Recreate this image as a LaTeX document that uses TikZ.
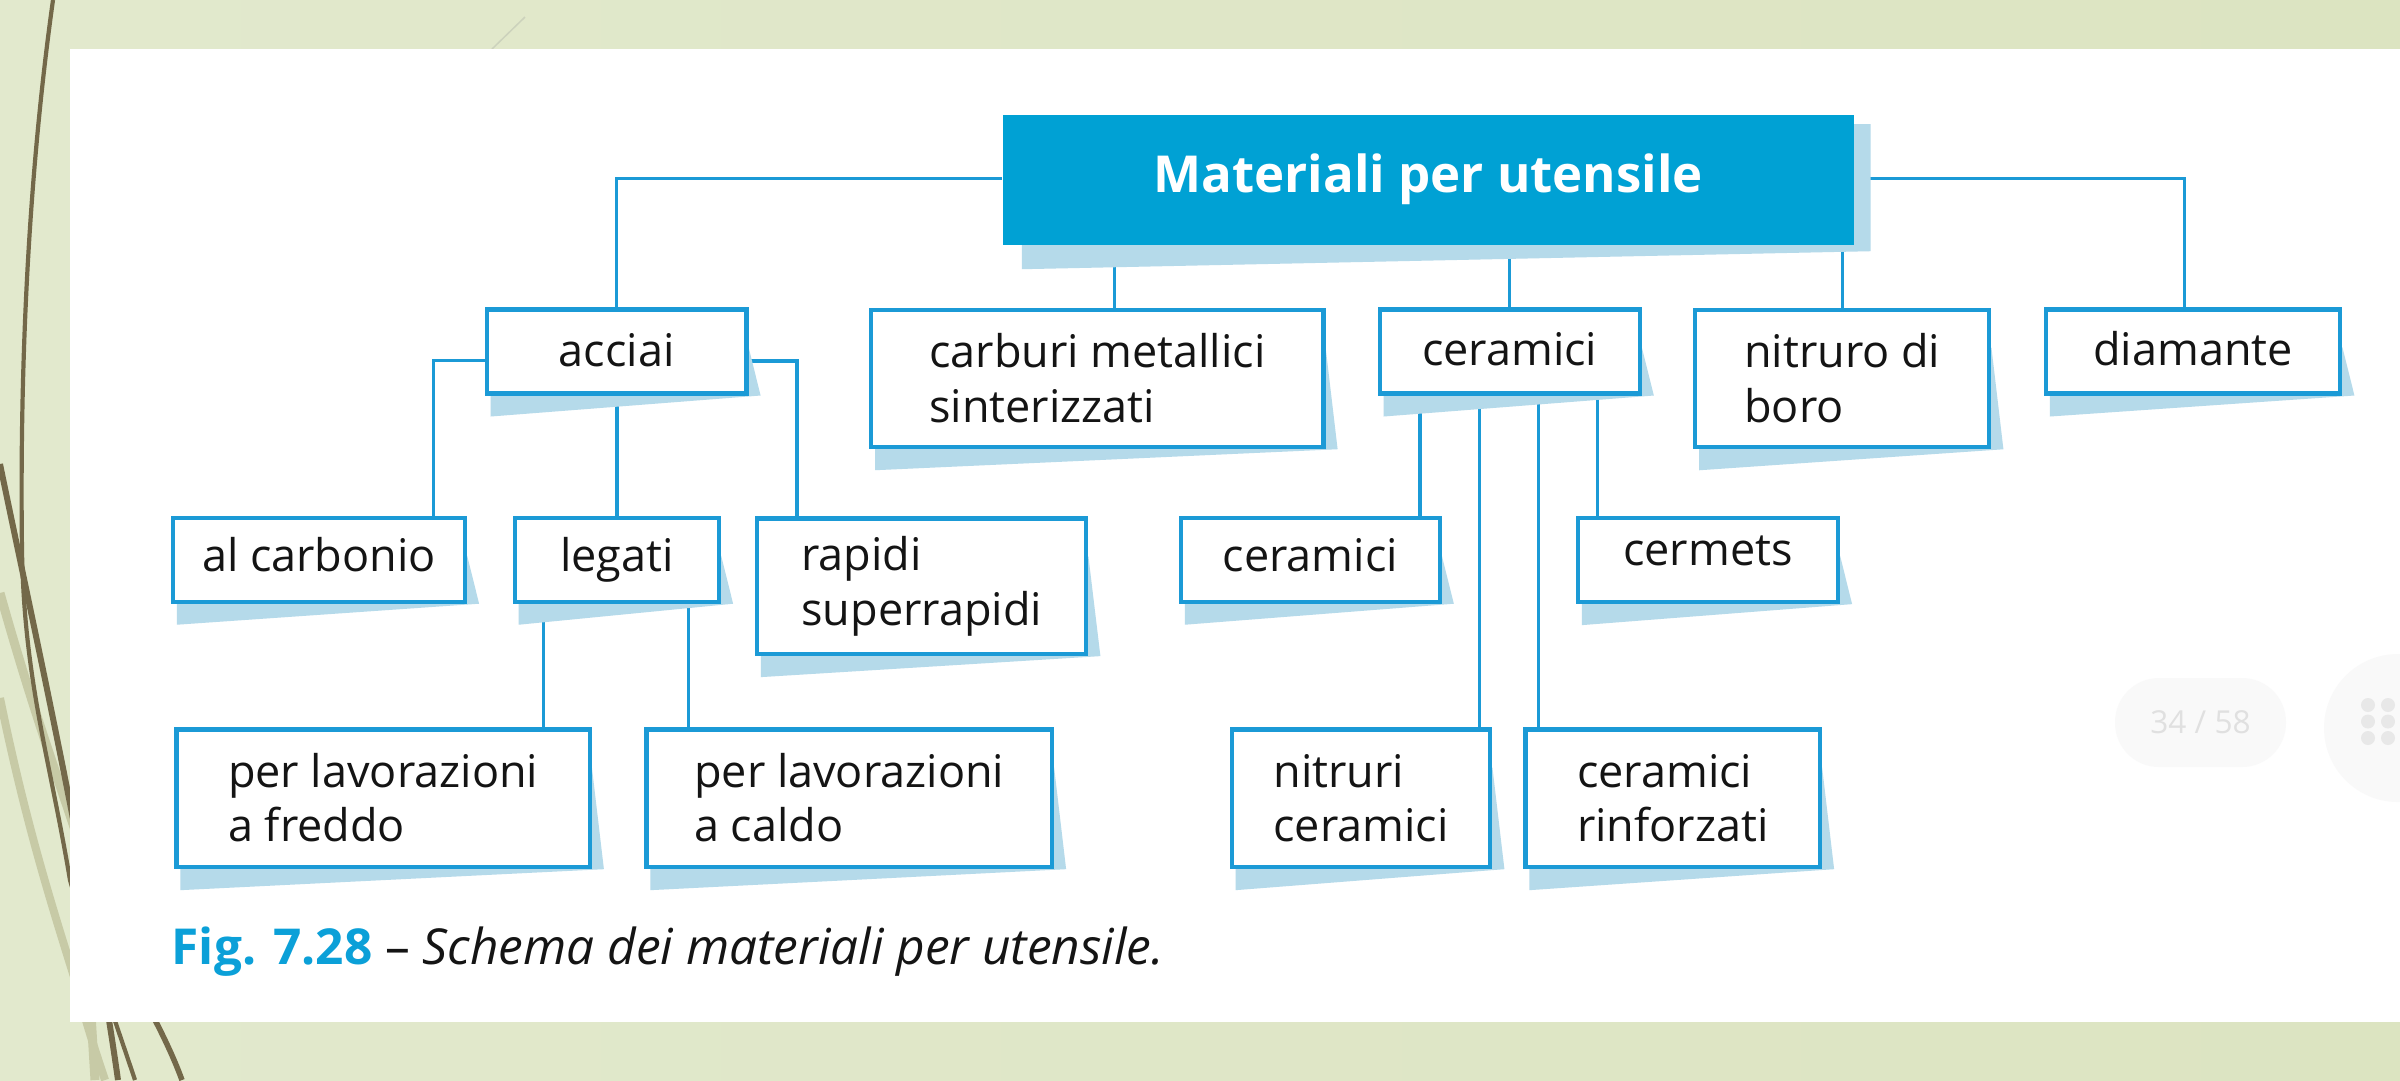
\documentclass[tikz,border=0pt]{standalone}
\usepackage{fontspec}
\setmainfont{Open Sans}
\usetikzlibrary{calc}
\definecolor{lineblue}{HTML}{1B9AD6}
\definecolor{mainblue}{HTML}{00A1D4}
\definecolor{shadowblue}{HTML}{B5DAEA}
\definecolor{txtc}{HTML}{141414}
\definecolor{capblue}{HTML}{0BA0D8}
\definecolor{bgleft}{HTML}{E2E9CD}
\definecolor{bgmid}{HTML}{F4F5EE}
\definecolor{bgright}{HTML}{DCE4C1}
\definecolor{wispdark}{HTML}{736849}
\definecolor{wisplight}{HTML}{C7CAA6}
\definecolor{wispfaint}{HTML}{CCD2BC}
\definecolor{pagerfill}{HTML}{F9F9F9}
\definecolor{pagertext}{HTML}{E0E0E0}
\pgfdeclarelayer{pagebg}
\pgfdeclarelayer{links}
\pgfdeclarelayer{shadows}
\pgfsetlayers{pagebg,links,shadows,main}
\newcommand\bodyfont{\fontsize{12.8}{15.5}\selectfont}
\newcommand\titlefont{\fontsize{14.5}{17}\selectfont\bfseries}
\newcommand\capfont{\fontsize{14.1}{17}\selectfont}
\newcommand\twolines[2]{\begin{tabular}[t]{@{}l@{}}#1\\#2\end{tabular}}
\newcommand\boxshadow[1]{\fill[shadowblue] ($(#1.south west)+(6,0)$) -- ($(#1.south west)+(6,21)$) -- ($(#1.south east)+(12,0)$) -- ($(#1.north east)+(0,40)$) -- cycle;}
\newcommand\drop[3]{\coordinate (#1-#2) at ($(#1.south)+(#3,0)$); \draw[link] (#1-#2) -- (#1-#2 |- #2.north);}
\tikzset{
  box/.style={draw=lineblue, line width=0.42mm, fill=white, rectangle, inner sep=0pt, text=txtc, font=\bodyfont, text depth=0pt},
  onebox/.style={box, minimum height=8.4mm},
  twobox/.style={box, minimum height=13.75mm, text height=0pt},
  link/.style={draw=lineblue, line width=0.32mm},
  mainbox/.style={fill=mainblue, draw=none, rectangle, inner sep=0pt, text=white, font=\titlefont, text height=2.64mm, text depth=0pt, minimum width=85.15mm, minimum height=12.98mm},
  pager/.style={fill=pagerfill, draw=none, rounded corners=4.4mm, minimum width=17.1mm, minimum height=8.9mm, text=pagertext, font=\fontsize{9}{10}\selectfont, inner sep=0pt},
  caption/.style={anchor=base west, inner sep=0pt, text=txtc, font=\capfont}
}
\begin{document}
\begin{tikzpicture}[x=0.1mm, y=-0.1mm]
\useasboundingbox (0,0) rectangle (2400,1080);

% ---------- page background ----------
\begin{pgfonlayer}{pagebg}
\shade[left color=bgleft, middle color=bgmid, right color=bgright] (0,0) rectangle (2400,1080);
\draw[wisplight, line width=0.9mm] (0,593) .. controls (30,700) and (55,770) .. (75,830) .. controls (85,900) and (90,1000) .. (95,1080);
\draw[wisplight, line width=0.8mm] (0,698) .. controls (25,820) and (50,900) .. (75,980) .. controls (85,1020) and (95,1050) .. (105,1080);
\draw[wispdark, line width=0.42mm] (53,0) .. controls (25,200) and (20,400) .. (22,550) .. controls (24,680) and (50,760) .. (70,880) .. controls (90,950) and (115,1020) .. (135,1080);
\draw[wispdark, line width=0.6mm] (0,464) .. controls (30,610) and (90,880) .. (118,1080);
\draw[wispdark, line width=0.55mm] (90,900) .. controls (120,960) and (160,1020) .. (182,1080);
\draw[wispfaint, line width=0.15mm] (525,17) -- (492,49);
\fill[white] (70,49) rectangle (2400,1022);
\node[pager] (pagenum) at (2200.5,722.5) {34 / 58};
\fill[pagerfill] (2398,728) circle (74);
\foreach \dx in {2368,2388}{\foreach \dy in {705,721.5,738}{\fill[white!91!black] (\dx,\dy) circle (7);}}
\end{pgfonlayer}

% ---------- boxes ----------
\node[mainbox] (main) at (1428.25,179.6) {Materiali per utensile};

\node[onebox, minimum width=25.98mm, text height=2.92mm] (acciai) at (616.6,351.4) {acciai};
\node[twobox, minimum width=45.22mm, text depth=2.11mm] (carburi) at (1097.4,378.35) {\twolines{carburi metallici}{sinterizzati}};
\node[onebox, minimum width=26.01mm, text height=2.86mm] (ceramici) at (1509.65,351.4) {ceramici};
\node[twobox, minimum width=29.4mm, text depth=2.12mm] (nitruro) at (1842.3,378.4) {\twolines{nitruro di}{boro}};
\node[onebox, minimum width=29.44mm, text height=2.86mm] (diamante) at (2193.1,351.4) {diamante};

\node[onebox, minimum width=29.2mm, text height=2.28mm] (alcarb) at (319,559.6) {al carbonio};
\node[onebox, minimum width=20.42mm, text height=2.28mm] (legati) at (616.9,559.6) {legati};
\node[twobox, minimum width=32.93mm, minimum height=13.55mm, text depth=3.11mm] (rapidi) at (921.65,586.25) {\twolines{rapidi}{superrapidi}};
\node[onebox, minimum width=25.87mm, text height=2.28mm] (ceram2) at (1310.35,559.6) {ceramici};
\node[onebox, minimum width=26mm, text height=1.0mm] (cermets) at (1708,560) {cermets};

\node[twobox, minimum width=41.33mm, text depth=2.22mm] (freddo) at (383.15,798.3) {\twolines{per lavorazioni}{a freddo}};
\node[twobox, minimum width=40.56mm, text depth=2.22mm] (caldo) at (849.2,798.3) {\twolines{per lavorazioni}{a caldo}};
\node[twobox, minimum width=25.87mm, text depth=2.22mm] (nitcer) at (1360.95,798.3) {\twolines{nitruri}{ceramici}};
\node[twobox, minimum width=29.45mm, text depth=2.22mm] (rinf) at (1672.75,798.3) {\twolines{ceramici}{rinforzati}};

\node[caption] (fig) at (171,964) {\textcolor{capblue}{\bfseries Fig. 7.28} – \textit{Schema dei materiali per utensile.}};

% ---------- shadows ----------
\begin{pgfonlayer}{shadows}
\fill[shadowblue] ($(main.south west)+(20,0)$) -- ($(main.south west)+(20,24)$) -- ($(main.south east)+(16,6)$) -- ($(main.north east)+(16,10)$) -- ($(main.north east)+(0,10)$) -- cycle;
\foreach \b in {acciai,carburi,ceramici,nitruro,diamante,alcarb,legati,rapidi,ceram2,cermets,freddo,caldo,nitcer,rinf}{\boxshadow{\b}}
\end{pgfonlayer}

% ---------- connectors ----------
\begin{pgfonlayer}{links}
\draw[link] ($(main.west)+(0,-1.5)$) -| (acciai.north);
\drop{main}{carburi}{-313.45}
\draw[link] (ceramici.north) -- (ceramici.north |- main.south);
\draw[link] (nitruro.north) -- (nitruro.north |- main.south);
\draw[link] ($(main.east)+(0,-1.5)$) -| ($(diamante.north)+(-9,0)$);
\draw[link] ($(acciai.west)+(0,9)$) -| ($(alcarb.north)+(114.7,0)$);
\draw[link] (legati.north) -- (legati.north |- acciai.south);
\draw[link] ($(acciai.east)+(0,9.5)$) -| ($(rapidi.north)+(-124.65,0)$);
\drop{legati}{freddo}{-73.5}
\drop{legati}{caldo}{71.9}
\drop{ceramici}{ceram2}{-89.65}
\drop{ceramici}{nitcer}{-30.35}
\drop{ceramici}{rinf}{29.05}
\drop{ceramici}{cermets}{88.05}
\end{pgfonlayer}
\end{tikzpicture}
\end{document}
